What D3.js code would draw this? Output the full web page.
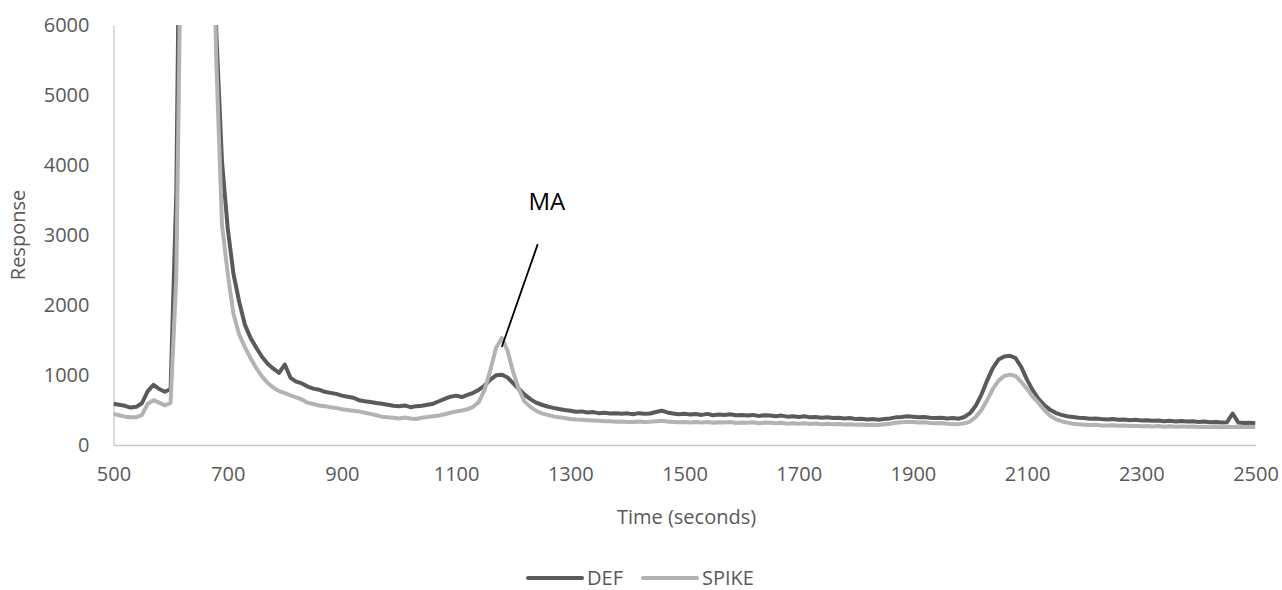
<!DOCTYPE html>
<html>
<head>
<meta charset="utf-8">
<script src="https://cdn.jsdelivr.net/npm/d3@7"></script>
<style>
  body { margin: 0; background: #fff; overflow: hidden; }
  svg text { font-family: "Open Sans", "Noto Sans", sans-serif; }
</style>
</head>
<body>
<div id="graph"></div>
<script>
// sample times (seconds)
var times = [
  500, 510, 520, 530, 540, 550, 560, 570, 580, 590,
  600, 610, 620, 630, 640, 650, 660, 670, 680, 690,
  700, 710, 720, 730, 740, 750, 760, 770, 780, 790,
  800, 810, 820, 830, 840, 850, 860, 870, 880, 890,
  900, 910, 920, 930, 940, 950, 960, 970, 980, 990,
  1000, 1010, 1020, 1030, 1040, 1050, 1060, 1070, 1080, 1090,
  1100, 1110, 1120, 1130, 1140, 1150, 1160, 1170, 1180, 1190,
  1200, 1210, 1220, 1230, 1240, 1250, 1260, 1270, 1280, 1290,
  1300, 1310, 1320, 1330, 1340, 1350, 1360, 1370, 1380, 1390,
  1400, 1410, 1420, 1430, 1440, 1450, 1460, 1470, 1480, 1490,
  1500, 1510, 1520, 1530, 1540, 1550, 1560, 1570, 1580, 1590,
  1600, 1610, 1620, 1630, 1640, 1650, 1660, 1670, 1680, 1690,
  1700, 1710, 1720, 1730, 1740, 1750, 1760, 1770, 1780, 1790,
  1800, 1810, 1820, 1830, 1840, 1850, 1860, 1870, 1880, 1890,
  1900, 1910, 1920, 1930, 1940, 1950, 1960, 1970, 1980, 1990,
  2000, 2010, 2020, 2030, 2040, 2050, 2060, 2070, 2080, 2090,
  2100, 2110, 2120, 2130, 2140, 2150, 2160, 2170, 2180, 2190,
  2200, 2210, 2220, 2230, 2240, 2250, 2260, 2270, 2280, 2290,
  2300, 2310, 2320, 2330, 2340, 2350, 2360, 2370, 2380, 2390,
  2400, 2410, 2420, 2430, 2440, 2450, 2460, 2470, 2480, 2490,
  2500
];

var def = [
  590, 575, 560, 535, 545, 600, 770, 860, 800, 760,
  800, 3600, 11000, 30000, 42000, 42000, 30000, 9800, 5900, 4050,
  3100, 2450, 2050, 1720, 1530, 1390, 1260, 1160, 1090, 1030,
  1150, 960, 905, 880, 835, 805, 790, 760, 745, 730,
  705, 690, 675, 640, 625, 615, 600, 590, 575, 560,
  555, 565, 540, 555, 560, 575, 590, 625, 660, 690,
  705, 685, 715, 745, 790, 850, 935, 995, 1005, 965,
  880, 800, 720, 655, 605, 575, 550, 530, 515, 500,
  490, 475, 480, 465, 470, 455, 462, 450, 455, 445,
  452, 440, 455, 445, 450, 472, 490, 465, 450, 440,
  445, 435, 442, 430, 445, 425, 435, 430, 440, 425,
  430, 420, 430, 415, 425, 420, 410, 420, 405, 410,
  400, 410, 395, 400, 390, 395, 385, 390, 380, 385,
  370, 375, 365, 370, 360, 370, 380, 395, 400, 410,
  405, 395, 400, 390, 385, 390, 380, 385, 375, 400,
  455, 560, 720, 920, 1100, 1220, 1265, 1275, 1240, 1110,
  930, 780, 660, 570, 505, 460, 430, 410, 400, 390,
  385, 375, 380, 370, 365, 372, 360, 365, 355, 360,
  350, 355, 345, 350, 340, 345, 335, 342, 335, 340,
  330, 335, 325, 330, 320, 325, 450, 320, 315, 318,
  310
];

var spike = [
  445, 425, 405, 395, 395, 430, 590, 640, 605, 565,
  600, 2400, 8500, 28000, 40000, 40000, 28000, 9000, 5500, 3150,
  2450, 1880, 1580, 1400, 1240, 1100, 980, 885, 820, 770,
  740, 710, 680, 650, 605, 585, 565, 555, 540, 530,
  510, 500, 490, 480, 460, 445, 425, 405, 395, 390,
  380, 392, 380, 372, 390, 400, 412, 420, 440, 460,
  480, 492, 510, 545, 615, 790, 1070, 1390, 1530, 1350,
  1040, 790, 620, 545, 490, 452, 430, 410, 395, 385,
  372, 365, 360, 355, 350, 345, 340, 338, 332, 335,
  330, 328, 335, 330, 332, 338, 345, 335, 330, 326,
  330, 322, 328, 320, 330, 318, 325, 320, 328, 315,
  322, 318, 325, 312, 320, 318, 310, 318, 305, 312,
  305, 310, 300, 306, 298, 304, 296, 300, 292, 296,
  290, 294, 286, 290, 285, 295, 305, 318, 325, 332,
  330, 320, 325, 315, 310, 315, 305, 300, 298, 310,
  335, 400, 500, 640, 800, 920, 985, 1005, 985, 900,
  800, 690, 600, 500, 420, 370, 340, 320, 305, 295,
  290, 285, 288, 280, 278, 282, 275, 278, 270, 274,
  268, 272, 265, 270, 262, 268, 262, 266, 260, 264,
  258, 262, 256, 260, 255, 260, 258, 262, 256, 260,
  258
];

var seriesNames = ["DEF", "SPIKE"];
var seriesColors = ["#5a5a5a", "#b3b3b3"];
var xTicks = [500, 700, 900, 1100, 1300, 1500, 1700, 1900, 2100, 2300, 2500];
var yTicks = [0, 1000, 2000, 3000, 4000, 5000, 6000];

// peak annotation (in data units)
var maLabel = "MA";
var maText = [1259, 3480];
var maLine = [[1243, 2870], [1180, 1400]];

var width = 1282, height = 590;
var plotL = 113.5, plotR = 1255.5, plotT = 25, plotB = 445;

var svg = d3.select("#graph")
            .append("svg")
            .attr("width", width)
            .attr("height", height);

var xScale = d3.scaleLinear().domain([500, 2500]).range([plotL, plotR]);
var yScale = d3.scaleLinear().domain([0, 6000]).range([plotB, plotT]);

svg.append("defs").append("clipPath")
   .attr("id", "plotclip")
   .append("rect")
   .attr("x", plotL).attr("y", plotT)
   .attr("width", plotR - plotL).attr("height", plotB - plotT);

// axes (no tick marks, light grey lines)
var xAxis = d3.axisBottom(xScale).tickValues(xTicks).tickSize(0).tickPadding(22).tickFormat(d3.format("d"));
var yAxis = d3.axisLeft(yScale).tickValues(yTicks).tickSize(0).tickPadding(24).tickFormat(d3.format("d"));

var gx = svg.append("g")
   .attr("transform", "translate(0," + plotB + ")")
   .call(xAxis);
var gy = svg.append("g")
   .attr("transform", "translate(" + plotL + ",0)")
   .call(yAxis);
[gx, gy].forEach(function(g) {
  g.select(".domain").attr("stroke", "#c9c9c9").attr("stroke-width", 1.3);
  g.selectAll("text").attr("fill", "#595959").style("font-size", "20px");
});

// series lines
var line = d3.line()
             .x(function(d, i) { return xScale(times[i]); })
             .y(function(d) { return yScale(d); });

var plot = svg.append("g").attr("clip-path", "url(#plotclip)");
[def, spike].forEach(function(s, k) {
  plot.append("path")
      .datum(s)
      .attr("d", line)
      .attr("fill", "none")
      .attr("stroke", seriesColors[k])
      .attr("stroke-width", 4)
      .attr("stroke-linejoin", "round");
});

// axis titles
svg.append("text")
   .attr("x", (plotL + plotR) / 2 + 2)
   .attr("y", 524)
   .attr("text-anchor", "middle")
   .attr("fill", "#595959")
   .style("font-size", "20px")
   .text("Time (seconds)");

svg.append("text")
   .attr("transform", "translate(25," + (plotT + plotB) / 2 + ") rotate(-90)")
   .attr("text-anchor", "middle")
   .attr("fill", "#595959")
   .style("font-size", "20px")
   .text("Response");

// annotation
svg.append("line")
   .attr("x1", xScale(maLine[0][0])).attr("y1", yScale(maLine[0][1]))
   .attr("x2", xScale(maLine[1][0])).attr("y2", yScale(maLine[1][1]))
   .attr("stroke", "#000")
   .attr("stroke-width", 1.8);
svg.append("text")
   .attr("x", xScale(maText[0]))
   .attr("y", yScale(maText[1]))
   .attr("dy", "0.35em")
   .attr("text-anchor", "middle")
   .attr("fill", "#000")
   .style("font-size", "24px")
   .text(maLabel);

// legend, centred under the chart
var legend = svg.append("g");
var lx = 0;
seriesNames.forEach(function(name, k) {
  var g = legend.append("g").attr("transform", "translate(" + lx + ",0)");
  g.append("line")
   .attr("x1", 0).attr("x2", 54)
   .attr("y1", 0).attr("y2", 0)
   .attr("stroke", seriesColors[k])
   .attr("stroke-width", 4)
   .attr("stroke-linecap", "round");
  var t = g.append("text")
   .attr("x", 59)
   .attr("dy", "0.35em")
   .attr("fill", "#595959")
   .style("font-size", "20px")
   .text(name);
  lx += 59 + t.node().getComputedTextLength() + 20;
});
var lw = lx - 20;
legend.attr("transform", "translate(" + (width / 2 - lw / 2) + ",578)");
</script>
</body>
</html>
